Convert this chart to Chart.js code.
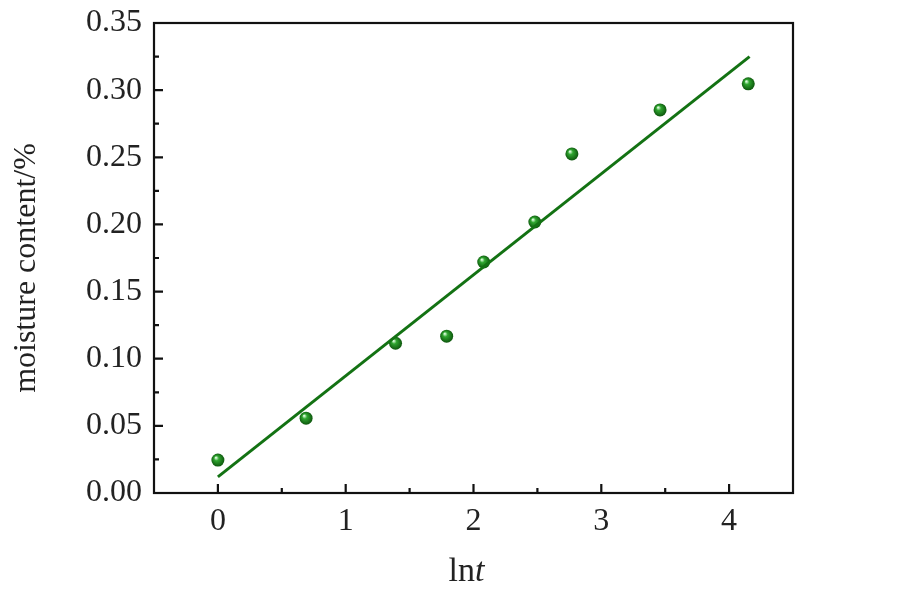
<!DOCTYPE html>
<html>
<head>
<meta charset="utf-8">
<script src="https://cdn.jsdelivr.net/npm/chart.js@4.4.1/dist/chart.umd.min.js"></script>
<style>
  html, body { margin: 0; padding: 0; background: #fff; }
  #wrap { width: 923px; height: 591px; }
</style>
</head>
<body>
<div id="wrap"><canvas id="moistureChart"></canvas></div>
<script>
// measured points (x = ln t)
const lnT = [0, 0.69, 1.39, 1.79, 2.08, 2.48, 2.77, 3.46, 4.15];
const moisture = [0.0245, 0.0557, 0.1115, 0.1168, 0.172, 0.2018, 0.2525, 0.2853, 0.3047];

// fitted line endpoints
const fitX = [0, 4.16];
const fitY = [0.012, 0.325];

const xTicks = [0, 1, 2, 3, 4];
const yTicks = [0, 0.05, 0.1, 0.15, 0.2, 0.25, 0.3, 0.35];

const serif = '"Liberation Serif", "Times New Roman", serif';
const green = '#137213';

// sphere-looking markers
function ballFill(ctx) {
    const el = ctx.element;
    if (!el || el.x === undefined) return green;
    const c = ctx.chart.ctx;
    const g = c.createRadialGradient(el.x - 2, el.y - 2.5, 0.5, el.x, el.y, 7);
    g.addColorStop(0, '#d8fad8');
    g.addColorStop(0.3, '#2fa52f');
    g.addColorStop(1, '#0a500a');
    return g;
}

// box, inner ticks and axis titles
const framePlugin = {
    id: 'frame',
    afterDraw(chart) {
        const c = chart.ctx;
        const a = chart.chartArea;
        const xs = chart.scales.x, ys = chart.scales.y;
        c.save();
        c.strokeStyle = '#111';
        c.lineWidth = 2.2;
        c.strokeRect(a.left, a.top, a.right - a.left, a.bottom - a.top);
        c.beginPath();
        for (let v = -0.5; v <= 4.5; v += 0.5) {
            const px = xs.getPixelForValue(v);
            const len = Number.isInteger(v) ? 9 : 5;
            if (px <= a.left + 1 || px >= a.right - 1) continue;
            c.moveTo(px, a.bottom);
            c.lineTo(px, a.bottom - len);
        }
        for (let i = 0; i <= 14; i++) {
            const v = i * 0.025;
            const py = ys.getPixelForValue(v);
            const len = i % 2 === 0 ? 9 : 5;
            if (py <= a.top + 1 || py >= a.bottom - 1) continue;
            c.moveTo(a.left, py);
            c.lineTo(a.left + len, py);
        }
        c.stroke();

        // x axis title: ln + italic t
        c.fillStyle = '#222';
        c.textBaseline = 'alphabetic';
        c.font = '34px ' + serif;
        const w1 = c.measureText('ln').width;
        c.font = 'italic 34px ' + serif;
        const w2 = c.measureText('t').width;
        const cx = (a.left + a.right) / 2 - 7;
        const start = cx - (w1 + w2) / 2;
        c.font = '34px ' + serif;
        c.fillText('ln', start, 581);
        c.font = 'italic 34px ' + serif;
        c.fillText('t', start + w1, 581);

        // y axis title
        c.translate(27, 268);
        c.rotate(-Math.PI / 2);
        c.textAlign = 'center';
        c.textBaseline = 'middle';
        c.font = '32px ' + serif;
        c.fillText('moisture content/%', 0, 0);
        c.restore();
    }
};

new Chart(document.getElementById('moistureChart'), {
    type: 'scatter',
    data: {
        datasets: [{
            type: 'line',
            label: 'fit',
            data: fitX.map((x, i) => ({ x: x, y: fitY[i] })),
            borderColor: green,
            borderWidth: 3,
            pointRadius: 0,
            fill: false
        }, {
            label: 'moisture',
            data: lnT.map((x, i) => ({ x: x, y: moisture[i] })),
            pointRadius: 6.5,
            pointBorderWidth: 0,
            pointBackgroundColor: ballFill,
            pointBorderColor: 'rgba(0,0,0,0)'
        }]
    },
    options: {
        responsive: true,
        maintainAspectRatio: false,
        animation: false,
        layout: { padding: { left: 10, right: 130, top: 23, bottom: 0 } },
        plugins: {
            legend: { display: false },
            tooltip: { enabled: false }
        },
        scales: {
            x: {
                type: 'linear',
                min: -0.5,
                max: 4.5,
                afterBuildTicks: (s) => { s.ticks = xTicks.map(v => ({ value: v })); },
                afterFit: (s) => { s.height = 98; s.paddingLeft = 0; s.paddingRight = 0; },
                grid: { display: false, drawTicks: false },
                border: { display: false },
                ticks: {
                    color: '#222',
                    padding: 9,
                    font: { family: serif, size: 32 },
                    callback: (v) => v.toString()
                }
            },
            y: {
                min: 0,
                max: 0.35,
                afterBuildTicks: (s) => { s.ticks = yTicks.map(v => ({ value: v })); },
                afterFit: (s) => { s.width = 144; s.paddingTop = 0; s.paddingBottom = 0; },
                grid: { display: false, drawTicks: false },
                border: { display: false },
                ticks: {
                    color: '#222',
                    padding: 12,
                    font: { family: serif, size: 32 },
                    callback: (v) => v.toFixed(2)
                }
            }
        }
    },
    plugins: [framePlugin]
});
</script>
</body>
</html>
